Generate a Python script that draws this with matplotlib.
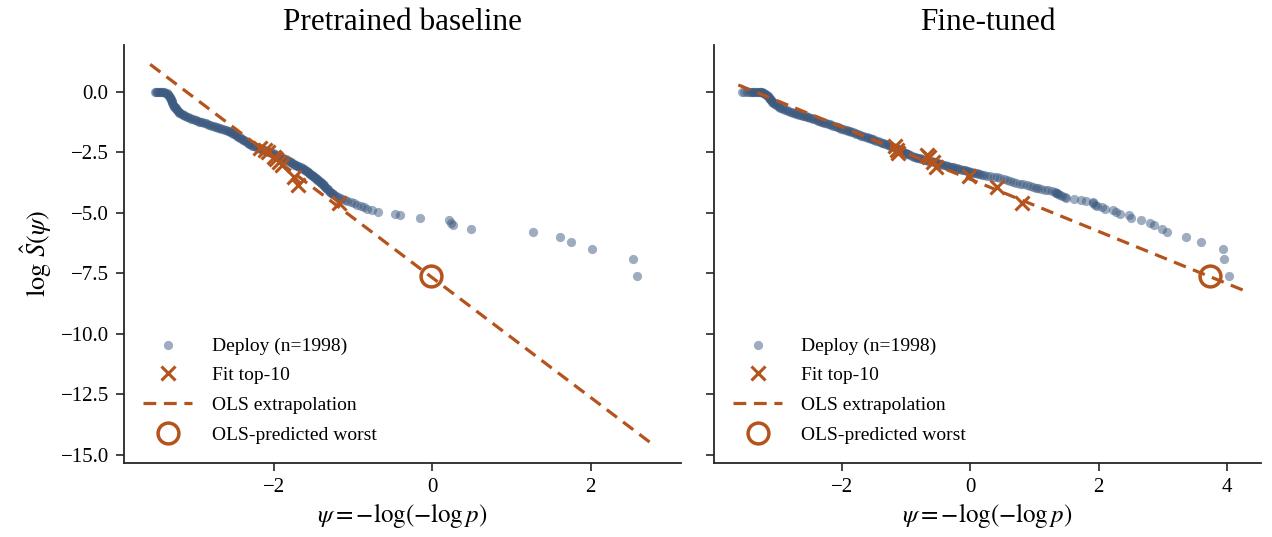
import numpy as np
import matplotlib
matplotlib.use("Agg")
import matplotlib.pyplot as plt

plt.rcParams.update({
    "font.family": ["Liberation Serif", "DejaVu Serif"],
    "mathtext.fontset": "stix",
    "axes.unicode_minus": True,
})

# ---------------- data: pretrained baseline ----------------
pre_psi = [
    -3.50, -3.47, -3.44, -3.41, -3.38, -3.35, -3.33, -3.31, -3.30, -3.29,
    -3.28, -3.26, -3.25, -3.23, -3.21, -3.19, -3.16, -3.13, -3.10, -3.06,
    -3.02, -2.98, -2.94, -2.90, -2.86, -2.82, -2.78, -2.74, -2.70, -2.66,
    -2.62, -2.58, -2.55, -2.52, -2.49, -2.46, -2.43, -2.40, -2.37, -2.34,
    -2.31, -2.28, -2.25, -2.21, -2.17, -2.13, -2.09, -2.05, -2.01, -1.97,
    -1.93, -1.89, -1.84, -1.81, -1.78, -1.75, -1.72, -1.69, -1.66, -1.63,
    -1.60, -1.58, -1.56, -1.54, -1.52, -1.50, -1.48, -1.46, -1.44, -1.42,
    -1.40, -1.38, -1.36, -1.34, -1.32,
    -1.30, -1.29, -1.28, -1.27, -1.25, -1.24, -1.22, -1.19, -1.17, -1.14,
    -1.10, -1.07, -1.03, -0.99, -0.95, -0.90, -0.86, -0.82, -0.76, -0.68,
    -0.47, -0.41, -0.16, 0.21, 0.24, 0.26, 0.49, 1.27, 1.61, 1.75,
    2.02, 2.54, 2.58,
    # further readings inside the dense band
    -3.49, -3.46, -3.43, -3.40, -3.37, -3.34, -3.32, -3.31, -3.30, -3.29,
    -3.27, -3.26, -3.24, -3.22, -3.20, -3.18, -3.15, -3.12, -3.08, -3.04,
    -3.00, -2.96, -2.92, -2.88, -2.84, -2.80, -2.76, -2.72, -2.68, -2.64,
    -2.60, -2.57, -2.54, -2.51, -2.48, -2.45, -2.42, -2.39, -2.36, -2.33,
    -2.30, -2.27, -2.23, -2.19, -2.15, -2.11, -2.07, -2.03, -1.99, -1.95,
    -1.91, -1.87, -1.83, -1.80, -1.77, -1.74, -1.71, -1.68, -1.65, -1.62,
    -1.59, -1.57, -1.55, -1.53, -1.51, -1.49, -1.47, -1.45, -1.43, -1.41,
    -1.39, -1.37, -1.35, -1.33,
]
pre_logS = [
    0.00, 0.00, 0.00, -0.01, -0.03, -0.07, -0.15, -0.23, -0.30, -0.40,
    -0.48, -0.57, -0.65, -0.73, -0.80, -0.86, -0.92, -0.98, -1.03, -1.09,
    -1.14, -1.18, -1.23, -1.27, -1.31, -1.36, -1.40, -1.44, -1.49, -1.53,
    -1.57, -1.61, -1.65, -1.71, -1.76, -1.81, -1.88, -1.95, -2.01, -2.08,
    -2.14, -2.19, -2.24, -2.30, -2.35, -2.40, -2.44, -2.50, -2.55, -2.61,
    -2.66, -2.72, -2.79, -2.85, -2.92, -2.98, -3.03, -3.07, -3.12, -3.18,
    -3.24, -3.29, -3.34, -3.39, -3.44, -3.49, -3.55, -3.60, -3.65, -3.71,
    -3.77, -3.83, -3.89, -3.96, -4.03,
    -4.10, -4.13, -4.17, -4.20, -4.23, -4.27, -4.30, -4.34, -4.38, -4.42,
    -4.46, -4.51, -4.56, -4.60, -4.66, -4.71, -4.77, -4.83, -4.89, -4.96,
    -5.03, -5.11, -5.20, -5.30, -5.40, -5.52, -5.66, -5.81, -5.99, -6.21,
    -6.50, -6.91, -7.60,
    # further readings inside the dense band
    0.00, 0.00, -0.01, -0.02, -0.05, -0.11, -0.19, -0.27, -0.35, -0.44,
    -0.53, -0.61, -0.69, -0.77, -0.83, -0.89, -0.95, -1.01, -1.06, -1.12,
    -1.16, -1.21, -1.25, -1.29, -1.34, -1.38, -1.42, -1.47, -1.51, -1.55,
    -1.59, -1.63, -1.68, -1.74, -1.79, -1.85, -1.92, -1.98, -2.05, -2.11,
    -2.17, -2.22, -2.27, -2.33, -2.38, -2.42, -2.47, -2.53, -2.58, -2.64,
    -2.69, -2.76, -2.82, -2.89, -2.95, -3.01, -3.05, -3.10, -3.15, -3.21,
    -3.27, -3.32, -3.37, -3.42, -3.47, -3.52, -3.58, -3.63, -3.68, -3.74,
    -3.80, -3.86, -3.93, -4.00,
]
pre_fit_psi = [-2.17, -2.11, -2.07, -2.00, -1.97, -1.94, -1.90, -1.75, -1.69, -1.18]
pre_fit_logS = [-2.34, -2.41, -2.48, -2.69, -2.78, -2.89, -3.03, -3.51, -3.86, -4.61]
pre_ols_psi = [-3.56, 2.77]
pre_ols_logS = [1.13, -14.53]
pre_worst_psi = [-0.02]
pre_worst_logS = [-7.60]

# ---------------- data: fine-tuned ----------------
ft_psi = [
    -3.56, -3.52, -3.48,
    -3.44, -3.40, -3.36, -3.32, -3.28, -3.25, -3.22, -3.19, -3.16, -3.14,
    -3.12, -3.10, -3.08, -3.06, -3.02, -2.98, -2.93, -2.88, -2.83, -2.78,
    -2.73, -2.68, -2.63, -2.58, -2.54, -2.49, -2.44, -2.39, -2.34, -2.29,
    -2.24, -2.19, -2.14, -2.08, -2.03, -1.98, -1.92, -1.87, -1.82, -1.77,
    -1.72, -1.67, -1.61, -1.56, -1.51, -1.46, -1.40, -1.35, -1.30, -1.25,
    -1.20, -1.14, -1.10, -1.06, -1.02, -0.98, -0.93, -0.88, -0.83, -0.78,
    -0.73, -0.68, -0.62, -0.57, -0.52, -0.47, -0.42, -0.36, -0.31, -0.26,
    -0.21, -0.16, -0.10, -0.05, 0.00, 0.05, 0.10, 0.16, 0.21, 0.26,
    0.31, 0.37, 0.42, 0.47, 0.52, 0.57, 0.62, 0.67, 0.72, 0.78,
    0.83, 0.88, 0.93,
    0.98, 1.02, 1.05, 1.10, 1.17, 1.22, 1.27, 1.32, 1.33, 1.35,
    1.37, 1.40, 1.43, 1.48, 1.50, 1.62, 1.73, 1.80, 1.91, 1.92,
    1.95, 1.97, 2.05, 2.10, 2.23, 2.27, 2.33, 2.48, 2.50, 2.66,
    2.80, 2.86, 2.99, 3.07, 3.36, 3.59, 3.94, 3.96, 4.03,
    # further readings inside the dense band
    -3.42, -3.38, -3.34, -3.30, -3.27, -3.24, -3.21, -3.18, -3.15, -3.13,
    -3.11, -3.09, -3.07, -3.04, -3.00, -2.96, -2.91, -2.86, -2.81, -2.76,
    -2.71, -2.66, -2.61, -2.56, -2.52, -2.47, -2.42, -2.37, -2.32, -2.27,
    -2.22, -2.17, -2.11, -2.06, -2.01, -1.95, -1.90, -1.85, -1.80, -1.75,
    -1.70, -1.64, -1.59, -1.54, -1.49, -1.43, -1.38, -1.33, -1.28, -1.23,
    -1.17, -1.12, -1.08, -1.04, -1.00, -0.96, -0.91, -0.86, -0.81, -0.76,
    -0.71, -0.65, -0.60, -0.55, -0.50, -0.45, -0.39, -0.34, -0.29, -0.24,
    -0.19, -0.13, -0.08, -0.03, 0.03, 0.08, 0.13, 0.19,
]
ft_logS = [
    0.00, 0.00, 0.00,
    0.00, 0.00, 0.00, 0.00, -0.01, -0.02, -0.04, -0.09, -0.15, -0.21,
    -0.28, -0.35, -0.42, -0.48, -0.55, -0.62, -0.69, -0.74, -0.79, -0.84,
    -0.88, -0.93, -0.97, -1.00, -1.03, -1.07, -1.12, -1.16, -1.21, -1.26,
    -1.30, -1.35, -1.40, -1.45, -1.49, -1.54, -1.59, -1.64, -1.68, -1.73,
    -1.78, -1.83, -1.88, -1.93, -1.97, -2.02, -2.07, -2.12, -2.16, -2.22,
    -2.27, -2.34, -2.40, -2.46, -2.51, -2.56, -2.62, -2.68, -2.73, -2.75,
    -2.79, -2.82, -2.86, -2.90, -2.93, -2.97, -3.01, -3.05, -3.09, -3.12,
    -3.16, -3.20, -3.23, -3.27, -3.31, -3.34, -3.37, -3.41, -3.44, -3.47,
    -3.49, -3.52, -3.54, -3.58, -3.61, -3.65, -3.68, -3.71, -3.75, -3.79,
    -3.83, -3.87, -3.90,
    -3.94, -3.96, -3.99, -4.01, -4.04, -4.07, -4.10, -4.13, -4.17, -4.20,
    -4.23, -4.27, -4.30, -4.34, -4.38, -4.42, -4.46, -4.51, -4.56, -4.60,
    -4.66, -4.71, -4.77, -4.83, -4.89, -4.96, -5.03, -5.11, -5.20, -5.30,
    -5.40, -5.52, -5.66, -5.81, -5.99, -6.21, -6.50, -6.91, -7.60,
    # further readings inside the dense band
    0.00, 0.00, 0.00, -0.01, -0.02, -0.03, -0.07, -0.12, -0.18, -0.25,
    -0.32, -0.39, -0.45, -0.52, -0.59, -0.66, -0.72, -0.77, -0.82, -0.86,
    -0.91, -0.95, -0.99, -1.02, -1.05, -1.10, -1.14, -1.19, -1.24, -1.28,
    -1.33, -1.38, -1.43, -1.47, -1.52, -1.57, -1.62, -1.66, -1.71, -1.76,
    -1.81, -1.86, -1.91, -1.95, -2.00, -2.05, -2.10, -2.14, -2.19, -2.25,
    -2.31, -2.37, -2.43, -2.49, -2.54, -2.59, -2.65, -2.71, -2.74, -2.77,
    -2.81, -2.84, -2.88, -2.92, -2.95, -2.99, -3.03, -3.07, -3.11, -3.14,
    -3.18, -3.22, -3.25, -3.29, -3.33, -3.36, -3.39, -3.43,
]
ft_fit_psi = [-1.17, -1.14, -1.12, -0.67, -0.64, -0.58, -0.53, -0.02, 0.42, 0.81]
ft_fit_logS = [-2.24, -2.41, -2.53, -2.62, -2.70, -2.90, -3.11, -3.48, -3.94, -4.59]
ft_ols_psi = [-3.61, 4.25]
ft_ols_logS = [0.28, -8.19]
ft_worst_psi = [3.74]
ft_worst_logS = [-7.60]

titles = ["Pretrained baseline", "Fine-tuned"]
n_deploy = 1998
yticks = [0.0, -2.5, -5.0, -7.5, -10.0, -12.5, -15.0]
xticks_list = [[-2, 0, 2], [-2, 0, 2, 4]]

# ---------------- styling ----------------
DOT = "#3d5a80"
ORANGE = "#b5531c"
SPINE = "#262626"

fig = plt.figure(figsize=(12.72, 5.37), dpi=100)
ax1 = fig.add_axes([0.0975, 0.1378, 0.4379, 0.7784])
ax2 = fig.add_axes([0.5613, 0.1378, 0.4300, 0.7784], sharey=ax1)

panels = [
    (ax1, pre_psi, pre_logS, pre_fit_psi, pre_fit_logS, pre_ols_psi, pre_ols_logS,
     pre_worst_psi, pre_worst_logS, (-3.89, 3.14)),
    (ax2, ft_psi, ft_logS, ft_fit_psi, ft_fit_logS, ft_ols_psi, ft_ols_logS,
     ft_worst_psi, ft_worst_logS, (-3.99, 4.53)),
]

for i, (ax, px, py, fx, fy, ox, oy, wx, wy, xl) in enumerate(panels):
    ax.scatter(px, py, s=44, color=DOT, alpha=0.5, linewidths=0,
               label=f"Deploy (n={n_deploy})", zorder=2)
    ax.plot(fx, fy, linestyle="none", marker="x", markersize=10, mew=2.2,
            color=ORANGE, label="Fit top-10", zorder=3)
    ax.plot(ox, oy, linestyle=(0, (4, 2.4)), linewidth=2.3, color=ORANGE,
            label="OLS extrapolation", zorder=3)
    ax.plot(wx, wy, linestyle="none", marker="o", markersize=15,
            markerfacecolor="none", markeredgecolor=ORANGE, mew=2.5,
            label="OLS-predicted worst", zorder=4)

    ax.set_xlim(*xl)
    ax.set_ylim(-15.33, 1.93)
    ax.set_xticks(xticks_list[i])
    ax.set_yticks(yticks)
    ax.set_title(titles[i], fontsize=22.5, pad=11)
    ax.set_xlabel(r"$\psi = -\log(-\log p)$", fontsize=18, labelpad=3)
    for s in ["top", "right"]:
        ax.spines[s].set_visible(False)
    for s in ["left", "bottom"]:
        ax.spines[s].set_linewidth(1.3)
        ax.spines[s].set_color(SPINE)
    ax.tick_params(axis="both", direction="out", length=6, width=1.2,
                   color=SPINE, labelsize=15, pad=5)
    leg = ax.legend(loc="lower left", frameon=False, fontsize=14,
                    handlelength=2.5, handletextpad=1.0, labelspacing=0.62,
                    borderaxespad=0.6)

ax1.set_yticklabels([f"{v:.1f}".replace("-", "\u2212") for v in yticks])
ax1.set_ylabel(r"$\log\,\hat{S}(\psi)$", fontsize=19, labelpad=5)
plt.setp(ax2.get_yticklabels(), visible=False)

fig.savefig("out.png", dpi=100)
